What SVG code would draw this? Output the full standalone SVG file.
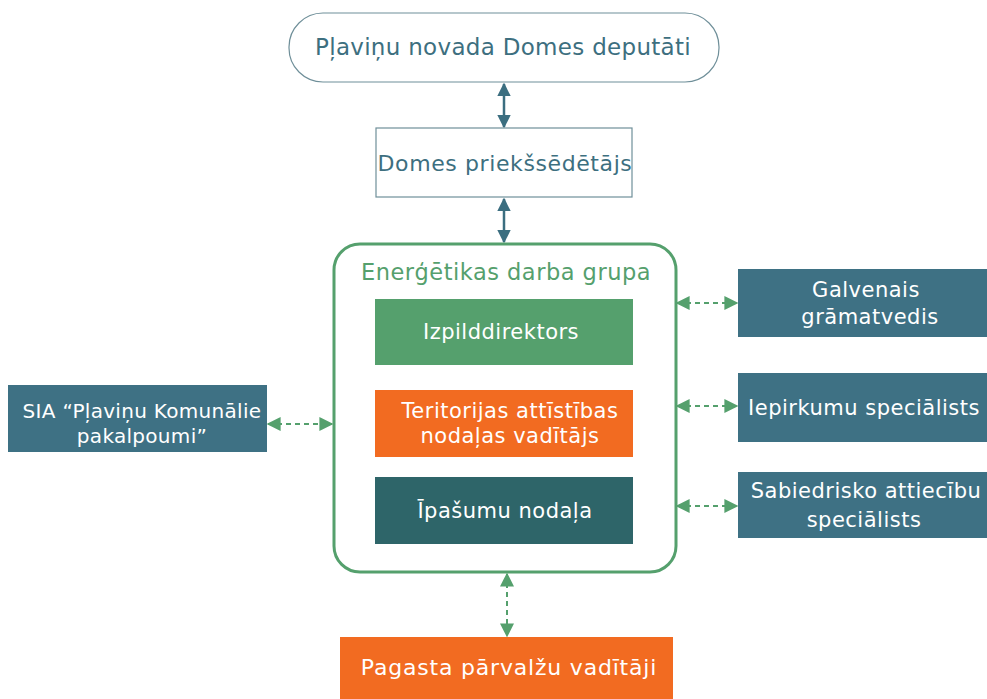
<svg xmlns="http://www.w3.org/2000/svg" width="987" height="699" viewBox="0 0 987 699">
<defs>
<style>
text{font-family:"DejaVu Sans","Liberation Sans",sans-serif;text-anchor:middle;dominant-baseline:central}
.w{fill:#ffffff;font-size:21px;letter-spacing:0.5px}
.t{fill:#3d6f7f;font-size:23px;letter-spacing:0.3px}
.solid{stroke:#3b6e80;stroke-width:2.5;fill:none}
.dash{stroke:#55a06d;stroke-width:2;stroke-dasharray:5 4;fill:none}
.blue{fill:#3e7184}
</style>
<marker id="ab" viewBox="0 0 10 10" refX="9" refY="5" markerWidth="5.5" markerHeight="5.5" orient="auto-start-reverse"><path d="M0,0 L10,5 L0,10 z" fill="#3b6e80"/></marker>
<marker id="ag" viewBox="0 0 10 10" refX="9" refY="5" markerWidth="7" markerHeight="7" orient="auto-start-reverse"><path d="M0,0 L10,5 L0,10 z" fill="#55a06d"/></marker>
</defs>
<rect width="987" height="699" fill="#ffffff"/>
<g id="connectors">
<line class="solid" x1="504" y1="84" x2="504" y2="127" marker-start="url(#ab)" marker-end="url(#ab)"/>
<line class="solid" x1="504" y1="199" x2="504" y2="242" marker-start="url(#ab)" marker-end="url(#ab)"/>
<line class="dash" x1="677" y1="303" x2="737" y2="303" marker-start="url(#ag)" marker-end="url(#ag)"/>
<line class="dash" x1="677" y1="406" x2="737" y2="406" marker-start="url(#ag)" marker-end="url(#ag)"/>
<line class="dash" x1="677" y1="506" x2="737" y2="506" marker-start="url(#ag)" marker-end="url(#ag)"/>
<line class="dash" x1="268" y1="424" x2="332" y2="424" marker-start="url(#ag)" marker-end="url(#ag)"/>
<line class="dash" x1="507" y1="574" x2="507" y2="636" marker-start="url(#ag)" marker-end="url(#ag)"/>
</g>
<g id="deputati">
<rect x="289" y="13" width="430" height="69" rx="34" fill="#ffffff" stroke="#6f8f99" stroke-width="1.2"/>
<text class="t" x="503" y="47">Pļaviņu novada Domes deputāti</text>
</g>
<g id="priekssedetajs">
<rect x="376" y="128" width="256" height="69" fill="#ffffff" stroke="#6f8f99" stroke-width="1.2"/>
<text class="t" x="505" y="163" style="font-size:22px;letter-spacing:0.6px">Domes priekšsēdētājs</text>
</g>
<g id="darba-grupa">
<rect x="334" y="244" width="342" height="328" rx="26" fill="#ffffff" stroke="#55a06d" stroke-width="3"/>
<text x="506" y="272" style="fill:#55a06d;font-size:22.5px;letter-spacing:0.5px">Enerģētikas darba grupa</text>
</g>
<g id="izpilddirektors">
<rect x="375" y="299" width="258" height="66" fill="#55a06d"/>
<text class="w" x="501" y="332">Izpilddirektors</text>
</g>
<g id="teritorijas">
<rect x="375" y="390" width="258" height="67" fill="#f26b21"/>
<text class="w" x="510" y="411">Teritorijas attīstības</text>
<text class="w" x="510" y="436">nodaļas vadītājs</text>
</g>
<g id="ipasumu">
<rect x="375" y="477" width="258" height="67" fill="#2e6569"/>
<text class="w" x="505" y="511">Īpašumu nodaļa</text>
</g>
<g id="galvenais">
<rect class="blue" x="738" y="269" width="249" height="68"/>
<text class="w" x="866" y="290">Galvenais</text>
<text class="w" x="870" y="317">grāmatvedis</text>
</g>
<g id="iepirkumu">
<rect class="blue" x="738" y="373" width="249" height="69"/>
<text class="w" x="864" y="408">Iepirkumu speciālists</text>
</g>
<g id="sabiedrisko">
<rect class="blue" x="738" y="472" width="249" height="66"/>
<text class="w" x="866" y="491">Sabiedrisko attiecību</text>
<text class="w" x="864" y="520">speciālists</text>
</g>
<g id="sia">
<rect class="blue" x="8" y="385" width="259" height="67"/>
<text class="w" x="142" y="411" style="font-size:20px;letter-spacing:0.3px">SIA “Pļaviņu Komunālie</text>
<text class="w" x="142" y="436" style="font-size:20px;letter-spacing:0.3px">pakalpoumi”</text>
</g>
<g id="pagasta">
<rect x="340" y="637" width="333" height="62" fill="#f26b21"/>
<text class="w" x="509" y="667" style="font-size:22px;letter-spacing:0.8px">Pagasta pārvalžu vadītāji</text>
</g>
</svg>
